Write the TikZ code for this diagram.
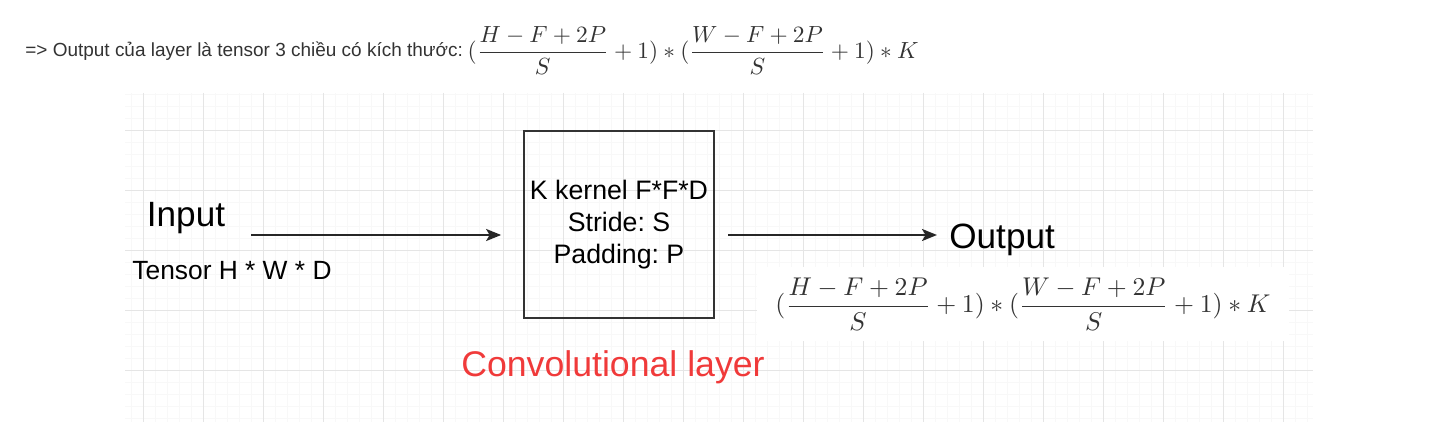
\documentclass[tikz,border=0pt]{standalone}
\usepackage{amsmath}
\usepackage{graphicx}
\usepackage{fontspec}
\newfontfamily\diagfont{Liberation Sans}
\usetikzlibrary{positioning,arrows.meta}
\definecolor{gridminor}{RGB}{248,248,248}
\definecolor{gridmajor}{RGB}{229,229,229}
\definecolor{inkgray}{RGB}{51,51,51}
\definecolor{convred}{RGB}{240,58,58}
\newcommand{\convsize}{$\displaystyle(\frac{H-F+2P}{S}+1)*(\frac{W-F+2P}{S}+1)*K$}
\frenchspacing

\begin{document}
\begin{tikzpicture}[
    x=0.02cm,y=-0.02cm,
    box/.style={rectangle,draw=black!80,line width=1.1pt,minimum width=3.76cm,minimum height=3.74cm,align=center,font=\diagfont\fontsize{15.2}{18.2}\selectfont},
    arrow/.style={-{Stealth[length=0.3cm,width=0.24cm,inset=0.07cm]},line width=1.2pt,black!85},
    bigtext/.style={inner sep=0pt,font=\diagfont\fontsize{20}{24}\selectfont},
    smalltext/.style={inner sep=0pt,font=\diagfont\fontsize{15}{18}\selectfont},
    mathtext/.style={inner sep=0pt,text=inkgray}
    ]

    \useasboundingbox (0,0) rectangle (1434,442);

    % background grid
    \foreach \gx in {131,143,...,1307} \draw[gridminor,line width=0.4pt] (\gx,93) -- (\gx,422);
    \foreach \gy in {94,106,...,418} \draw[gridminor,line width=0.4pt] (125,\gy) -- (1313,\gy);
    \foreach \gx in {143,203,...,1283} \draw[gridmajor,line width=0.5pt] (\gx,93) -- (\gx,422);
    \foreach \gy in {130,190,...,370} \draw[gridmajor,line width=0.5pt] (125,\gy) -- (1313,\gy);

    % heading line
    \node[anchor=base west,inner sep=0pt,text=inkgray,font=\diagfont\fontsize{10.8}{13}\selectfont] (header) at (25,57) {=> Output của layer là tensor 3 chiều có kích thước:};
    \node[mathtext,anchor=west] (headsize) at ([xshift=0.08cm,yshift=0.13cm]header.base east)
      {\scalebox{1.33}{\convsize}};

    \node[bigtext,anchor=base] (input) at (186,227) {Input};
    \node[smalltext,anchor=base] (tensor) at (232,280) {Tensor H * W * D};

    \node[box] (layer) at (619,224.5) {K kernel F*F*D\\Stride: S\\Padding: P};

    \node[bigtext,anchor=base west] (output) at (949,249) {Output};

    \node[mathtext,fill=white,minimum width=10.64cm,minimum height=1.5cm] (outsize) at (1023,304)
      {\scalebox{1.46}{\convsize}};

    \node[inner sep=0pt,anchor=base,text=convred,font=\diagfont\fontsize{20.3}{24}\selectfont] (caption) at (613,377) {Convolutional layer};

    \coordinate (instart) at (251,235);
    \coordinate (outstart) at (728,235);

    \draw[arrow,shorten >=0.44cm] (instart)--(instart -| layer.west);
    \draw[arrow,shorten >=0.24cm] (outstart)--(outstart -| output.west);

  \end{tikzpicture}
\end{document}
